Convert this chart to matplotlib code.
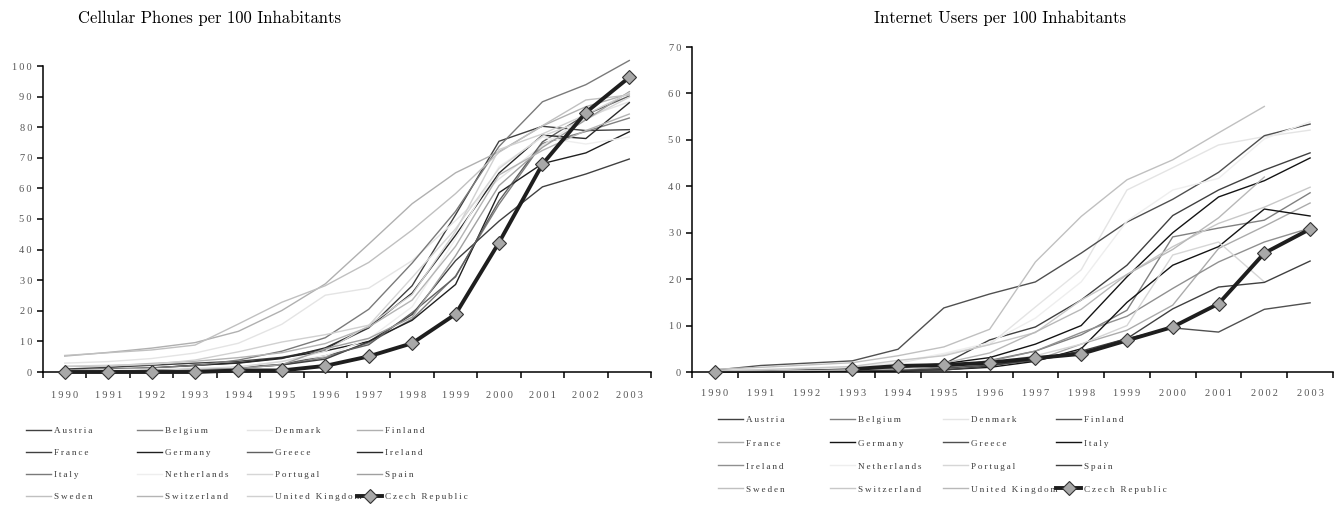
import matplotlib
matplotlib.use("Agg")
import matplotlib.pyplot as plt
import numpy as np

# ---------------------------------------------------------
# Data
# ---------------------------------------------------------
years = [1990, 1991, 1992, 1993, 1994, 1995, 1996, 1997, 1998, 1999, 2000, 2001, 2002, 2003]

countries = ["Austria", "Belgium", "Denmark", "Finland", "France", "Germany", "Greece",
             "Ireland", "Italy", "Netherlands", "Portugal", "Spain", "Sweden",
             "Switzerland", "United Kingdom"]

# Cellular phones per 100 inhabitants
cell_austria = [0.96, 1.5, 2.2, 2.9, 3.5, 4.8, 7.5, 14.4, 28.2, 51.4, 75.4, 80.3, 78.9, 79.2]
cell_belgium = [0.4, 0.5, 0.6, 0.7, 1.3, 2.3, 4.7, 9.5, 17.3, 31.4, 54.8, 74.7, 78.6, 83.0]
cell_denmark = [2.9, 3.4, 4.4, 6.2, 9.4, 15.6, 25.1, 27.4, 36.4, 49.5, 63.1, 74.0, 83.3, 88.3]
cell_finland = [5.2, 6.4, 7.8, 9.6, 13.3, 20.1, 28.8, 41.8, 55.0, 65.1, 72.0, 80.4, 86.7, 90.9]
cell_france = [0.5, 0.7, 0.8, 1.0, 1.5, 2.3, 4.2, 9.9, 18.8, 36.4, 49.3, 60.5, 64.7, 69.6]
cell_germany = [0.3, 0.7, 1.2, 2.2, 3.0, 4.6, 6.9, 10.0, 16.9, 28.6, 58.6, 68.1, 71.6, 78.5]
cell_greece = [0.0, 0.0, 0.0, 0.5, 1.5, 2.5, 5.3, 8.9, 19.4, 31.1, 55.9, 75.2, 84.1, 90.2]
cell_ireland = [0.7, 0.9, 1.3, 2.2, 2.9, 4.4, 7.9, 14.6, 25.8, 44.7, 65.0, 77.4, 76.3, 88.0]
cell_italy = [0.5, 1.0, 1.4, 2.1, 3.9, 6.8, 11.2, 20.5, 35.6, 52.5, 73.7, 88.3, 93.9, 101.8]
cell_netherlands = [0.5, 0.7, 1.0, 1.4, 1.5, 3.5, 5.3, 10.8, 21.3, 43.5, 67.1, 76.7, 74.5, 76.8]
cell_portugal = [0.1, 0.1, 0.4, 1.0, 1.7, 3.4, 6.8, 15.2, 30.9, 46.8, 66.5, 77.1, 82.5, 89.8]
cell_spain = [0.1, 0.1, 0.2, 0.7, 1.1, 2.4, 7.6, 11.0, 17.9, 38.0, 60.9, 73.4, 82.4, 91.6]
cell_sweden = [5.4, 6.3, 7.2, 8.8, 15.7, 22.8, 28.2, 35.8, 46.4, 58.3, 71.8, 80.5, 88.9, 90.5]
cell_switzerland = [1.8, 2.0, 2.8, 3.5, 4.7, 6.3, 9.3, 14.7, 23.5, 41.1, 64.4, 72.4, 78.9, 84.3]
cell_uk = [1.9, 2.2, 2.5, 3.9, 6.6, 9.8, 12.2, 15.3, 25.3, 46.0, 72.7, 77.8, 84.1, 91.2]
cell_czech = [0.0, 0.0, 0.0, 0.0, 0.5, 0.5, 2.0, 5.1, 9.4, 18.9, 42.3, 67.9, 84.8, 96.3]

# Internet users per 100 inhabitants (None = no data)
net_austria = [0.1, 0.3, 0.5, 0.6, 1.1, 1.7, 6.9, 9.7, 15.5, 23.0, 33.7, 39.2, 43.5, 47.2]
net_belgium = [0.0, 0.1, 0.2, 0.3, 0.5, 0.9, 2.5, 4.5, 8.0, 13.3, 29.1, 31.0, 32.7, 38.6]
net_denmark = [0.1, 0.4, 0.6, 1.0, 1.9, 3.8, 5.9, 14.0, 22.0, 39.2, 44.0, 48.9, 50.7, 52.1]
net_finland = [0.4, 1.4, 1.9, 2.4, 4.9, 13.8, 16.8, 19.4, 25.6, 32.3, 37.2, 43.0, 50.9, 53.4]
net_france = [0.0, 0.1, 0.2, 0.3, 0.5, 0.9, 1.5, 2.5, 6.0, 9.0, 14.4, 26.6, 31.4, 36.4]
net_germany = [0.1, 0.2, 0.4, 0.6, 0.9, 1.8, 3.1, 6.0, 10.0, 20.5, 30.0, 37.7, 41.2, 46.1]
net_greece = [0.0, 0.0, 0.1, 0.2, 0.4, 0.8, 1.5, 2.5, 4.2, 7.2, 9.5, 8.6, 13.5, 14.9]
net_italy = [0.0, 0.1, 0.1, 0.2, 0.2, 0.5, 1.0, 2.3, 5.0, 15.0, 23.0, 27.0, 35.1, 33.6]
net_ireland = [0.0, 0.1, 0.2, 0.3, 0.5, 1.1, 2.3, 4.5, 8.5, 12.0, 18.0, 23.7, 28.0, 31.0]
net_netherlands = [0.3, 0.5, 0.9, 1.2, 2.1, 4.0, 6.3, 11.6, 19.4, 32.5, 39.2, 41.7, 50.2, 53.9]
net_portugal = [0.0, 0.05, 0.1, 0.3, 0.5, 1.5, 2.0, 3.5, 6.0, 10.0, 25.2, 28.0, 19.4, None]
net_spain = [0.0, 0.05, 0.1, 0.2, 0.4, 0.4, 1.3, 2.8, 4.5, 7.2, 13.6, 18.3, 19.3, 23.9]
net_sweden = [0.6, 1.0, 1.5, 2.0, 3.5, 5.4, 9.2, 23.7, 33.5, 41.4, 45.7, 51.5, 57.2, None]
net_switzerland = [0.3, 0.5, 0.8, 1.2, 2.5, 3.5, 5.9, 8.5, 15.5, 21.0, 27.0, 32.0, 35.5, 39.8]
net_uk = [0.1, 0.2, 0.3, 0.5, 1.0, 1.9, 4.1, 8.6, 13.5, 21.0, 26.4, 33.2, 42.0, None]
net_czech = [0.0, None, None, 0.6, 1.3, 1.5, 2.0, 3.0, 3.9, 6.8, 9.7, 14.7, 25.6, 30.8]

cell_series = [cell_austria, cell_belgium, cell_denmark, cell_finland, cell_france,
               cell_germany, cell_greece, cell_ireland, cell_italy, cell_netherlands,
               cell_portugal, cell_spain, cell_sweden, cell_switzerland, cell_uk]
net_series = [net_austria, net_belgium, net_denmark, net_finland, net_france,
              net_germany, net_greece, net_ireland, net_italy, net_netherlands,
              net_portugal, net_spain, net_sweden, net_switzerland, net_uk]

# grey shades per country (same order as `countries`)
cell_colors = ["#404040", "#808080", "#e4e4e4", "#b0b0b0", "#404040", "#202020", "#606060",
               "#2a2a2a", "#7a7a7a", "#eeeeee", "#d6d6d6", "#a0a0a0", "#c0c0c0",
               "#b4b4b4", "#d0d0d0"]
net_colors = ["#404040", "#808080", "#e4e4e4", "#505050", "#ababab", "#141414", "#505050",
              "#909090", "#141414", "#eeeeee", "#d6d6d6", "#404040", "#c0c0c0",
              "#c8c8c8", "#b8b8b8"]

# legend order (row by row, 4 per row) - the two panels differ slightly
cell_order = ["Austria", "Belgium", "Denmark", "Finland", "France", "Germany", "Greece",
              "Ireland", "Italy", "Netherlands", "Portugal", "Spain", "Sweden",
              "Switzerland", "United Kingdom", "Czech Republic"]
net_order = ["Austria", "Belgium", "Denmark", "Finland", "France", "Germany", "Greece",
             "Italy", "Ireland", "Netherlands", "Portugal", "Spain", "Sweden",
             "Switzerland", "United Kingdom", "Czech Republic"]

TICK_FONT = ["Liberation Serif", "DejaVu Serif"]
TICK_COLOR = "#555555"
THIN = "\u2009"   # thin space between letters, like the original's spaced-out text
W, H = 1340, 512


def spaced(s):
    return THIN.join(s)


def draw_panel(ax, series, colors, czech, ymax, xpad):
    x = np.arange(len(years))
    handles = {}
    for name, vals, col in zip(countries, series, colors):
        ln, = ax.plot(x, np.array(vals, dtype=float), color=col, lw=1.0, clip_on=False)
        handles[name] = ln
    cz, = ax.plot(x, np.array(czech, dtype=float), color="#1e1e1e", lw=2.8, marker="D",
                  ms=7, mfc="#a8a8a8", mec="#333333", mew=0.8, clip_on=False, zorder=5)
    handles["Czech Republic"] = cz

    ax.set_xlim(-0.5, len(years) - 0.5)
    ax.set_ylim(0, ymax)
    ax.set_xticks(np.arange(-0.5, len(years), 1))
    ax.set_xticklabels([])
    ax.set_xticks(x, minor=True)
    ax.set_xticklabels([spaced(str(y)) for y in years], minor=True,
                       family=TICK_FONT, fontsize=7.5, color=TICK_COLOR)
    ax.tick_params(axis="x", which="minor", length=0, pad=xpad)
    ax.tick_params(axis="x", which="major", length=4, width=1.1, direction="out")
    yt = list(range(0, ymax + 1, 10))
    ax.set_yticks(yt)
    ax.set_yticklabels([spaced(str(v)) for v in yt], family=TICK_FONT, fontsize=7.5,
                       color=TICK_COLOR)
    ax.tick_params(axis="y", length=4, width=1.1, pad=4)
    for s in ["top", "right"]:
        ax.spines[s].set_visible(False)
    for s in ["left", "bottom"]:
        ax.spines[s].set_linewidth(1.1)
    return handles


def add_legend(fig, handles, order, col_x, top_y, spacing):
    # four separate column legends so each column starts where it does in the picture
    for c in range(4):
        names = [order[r * 4 + c] for r in range(4)]
        leg = fig.legend([handles[n] for n in names], [spaced(n) for n in names],
                         loc="upper left", bbox_to_anchor=(col_x[c] / W, 1 - top_y / H),
                         bbox_transform=fig.transFigure, frameon=False, borderpad=0,
                         borderaxespad=0, handlelength=2.75, handletextpad=0.3,
                         labelspacing=spacing, prop={"family": TICK_FONT, "size": 6.6})
        for t in leg.get_texts():
            t.set_color("#3a3a3a")


fig = plt.figure(figsize=(W / 100, H / 100), dpi=100)
fig.patch.set_facecolor("white")

ax1 = fig.add_axes([43 / W, 1 - 372 / H, 608 / W, 306 / H])
ax2 = fig.add_axes([692 / W, 1 - 372 / H, 641 / W, 325 / H])

h1 = draw_panel(ax1, cell_series, cell_colors, cell_czech, 100, 14)
h2 = draw_panel(ax2, net_series, net_colors, net_czech, 70, 12)

fig.text(210 / W, 1 - 18 / H, "Cellular Phones per 100 Inhabitants", family="cmr10",
         fontsize=12, ha="center", va="center")
fig.text(1000 / W, 1 - 18 / H, "Internet Users per 100 Inhabitants", family="cmr10",
         fontsize=12, ha="center", va="center")

add_legend(fig, h1, cell_order, [26, 137, 247, 357], 427, 1.47)
add_legend(fig, h2, net_order, [718, 830, 943, 1056], 416, 1.6)

fig.savefig("out.png", dpi=100)
